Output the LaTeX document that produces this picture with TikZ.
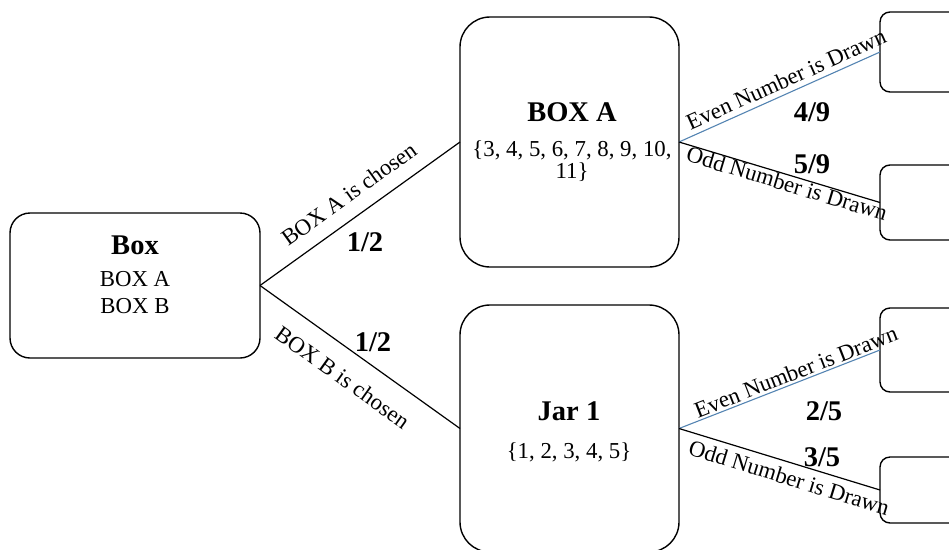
\documentclass[tikz,border=0pt]{standalone}
\usepackage{fontspec}
\setmainfont{Liberation Serif}
\definecolor{evenblue}{RGB}{84,132,178}
\begin{document}
\begin{tikzpicture}[x=1pt,y=-1pt,
  bx/.style={draw, line width=1.4pt, outer sep=0pt, inner sep=0pt},
  edge/.style={line width=1.2pt},
  blueedge/.style={line width=1.1pt, draw=evenblue},
  ttl/.style={font=\fontsize{28.5}{30}\selectfont\bfseries, inner sep=0pt},
  txt/.style={font=\fontsize{22.8}{24}\selectfont, inner sep=0pt},
  frac/.style={font=\fontsize{28.5}{30}\selectfont\bfseries, inner sep=0pt},
  elab/.style={font=\fontsize{22.8}{24}\selectfont, inner sep=0pt, sloped}
]
\useasboundingbox (0,0) rectangle (949,549);
\clip (0,0) rectangle (949,549);

% boxes
\node[bx, rounded corners=20pt, minimum width=250pt, minimum height=145pt] (box) at (135,285.5) {};
\node[bx, rounded corners=30pt, minimum width=219pt, minimum height=250pt] (boxa) at (569.5,142) {};
\node[bx, rounded corners=30pt, minimum width=219pt, minimum height=247pt] (jar) at (569.5,428.5) {};
\node[bx, rounded corners=10pt, minimum width=100pt, minimum height=80pt] (r1) at (930,52) {};
\node[bx, rounded corners=10pt, minimum width=100pt, minimum height=75pt] (r2) at (930,202.5) {};
\node[bx, rounded corners=10pt, minimum width=100pt, minimum height=84pt] (r3) at (930,350) {};
\node[bx, rounded corners=10pt, minimum width=100pt, minimum height=66pt] (r4) at (930,490) {};

% texts inside boxes
\node[ttl] (boxt) at (135,245) {Box};
\node[txt] (boxl1) at (135,279) {BOX A};
\node[txt] (boxl2) at (135,306) {BOX B};

\node[ttl] (boxat) at (572,112) {BOX A};
\node[txt] (boxal1) at (572,150) {\{3, 4, 5, 6, 7, 8, 9, 10,};
\node[txt] (boxal2) at (572,172) {11\}};

\node[ttl] (jart) at (569,411) {Jar 1};
\node[txt] (jarl1) at (569,452) {\{1, 2, 3, 4, 5\}};

% connectors
\draw[edge] (box.east) -- node[elab, pos=0.51, above=14pt] (la) {BOX A is chosen} (boxa.west);
\draw[edge] (box.east) -- node[elab, pos=0.49, below=18pt] (lb) {BOX B is chosen} (jar.west);

\draw[blueedge] (boxa.east) -- node[elab, pos=0.56, above=5pt] (lae) {Even Number is Drawn} (r1.west);
\draw[edge] (boxa.east) -- node[elab, pos=0.55, below=0pt] (lao) {Odd Number is Drawn} (r2.west);

\draw[blueedge] (jar.east) -- node[elab, pos=0.6, above=2pt] (lje) {Even Number is Drawn} (r3.west);
\draw[edge] (jar.east) -- node[elab, pos=0.57, below=6pt] (ljo) {Odd Number is Drawn} (r4.west);

% probabilities
\node[frac] (pa) at (365,242) {1/2};
\node[frac] (pb) at (373,342) {1/2};
\node[frac] (p49) at (812,112) {4/9};
\node[frac] (p59) at (812,164) {5/9};
\node[frac] (p25) at (824,411) {2/5};
\node[frac] (p35) at (822,457) {3/5};
\end{tikzpicture}
\end{document}
